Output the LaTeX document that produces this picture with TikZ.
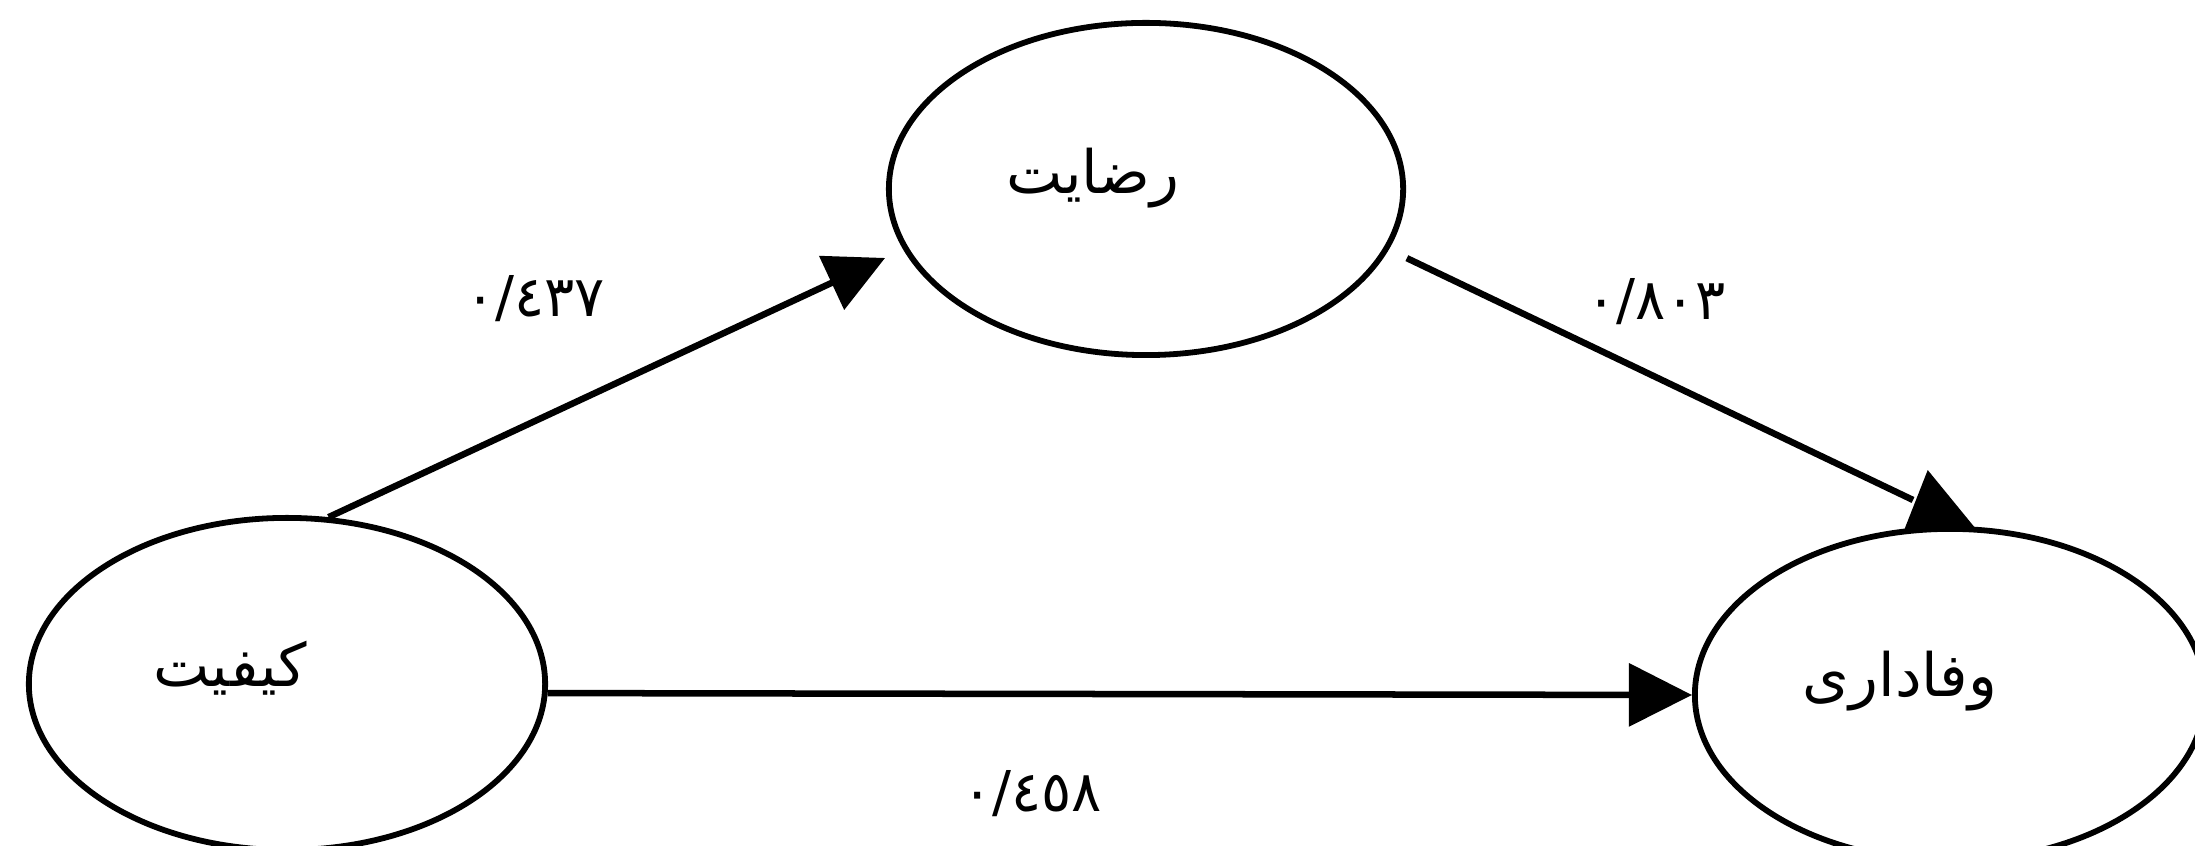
\documentclass[tikz,border=0pt]{standalone}
\usepackage{fontspec}
\newfontfamily\arabicfont[Script=Arabic]{DejaVu Sans}
\TeXXeTstate=1
\usetikzlibrary{arrows.meta,shapes.geometric}
\begin{document}
\begin{tikzpicture}[x=0.01cm,y=0.01cm,
  construct/.style={draw, ellipse, line width=0.058cm, inner sep=0pt, minimum height=3.32cm},
  word/.style={font=\arabicfont\fontsize{17}{20}\selectfont, inner sep=0pt},
  coef/.style={font=\arabicfont\fontsize{16}{19}\selectfont, inner sep=0pt},
  link/.style={line width=0.065cm},
  headA/.style={-{Triangle[length=0.59cm,width=0.58cm]}},
  headB/.style={-{Triangle[length=0.63cm,width=0.62cm]}},
  blob/.style={fill=black, draw=black, line width=0.02cm}
]
\useasboundingbox (0,0) rectangle (2195,846);
% constructs
\node[construct, minimum width=5.14cm] (rez) at (1146,657) {};
\node[construct, minimum width=5.16cm] (kif) at (287,162) {};
\node[construct, minimum width=5.10cm] (vaf) at (1950,151) {};
% names
\node[word] (trez) at (1093,668) {\beginR رضایت\endR};
\node[word] (tkif) at (230,178) {\beginR کیفیت\endR};
\node[word] (tvaf) at (1900,165) {\beginR وفاداری\endR};
% coefficients
\node[coef] (c1) at (535,547) {٠/٤٣٧};
\node[coef] (c2) at (1656,544) {٠/٨٠٣};
\node[coef] (c3) at (1032,52) {٠/٤٥٨};
% connectors
\draw[link, headA, shorten >=0.2cm] (kif.76.5) -- (rez.194);
\coordinate (t2) at (1913,346);
\draw[link, shorten <=0.2cm] (rez.-14) -- (t2);
\fill[blob] (1928,374) -- (1906,318) -- (1973,319) -- cycle;
\draw[link, headB] (kif.-2.5) -- (vaf.west);
\end{tikzpicture}
\end{document}
